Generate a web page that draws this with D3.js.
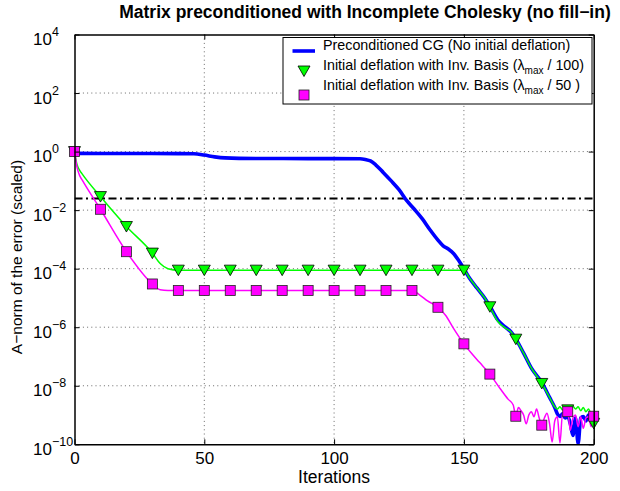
<!DOCTYPE html>
<html>
<head>
<meta charset="utf-8">
<script src="https://cdn.jsdelivr.net/npm/d3@7"></script>
<style>
  body { margin: 0; background: #fff; }
  text { font-family: "Liberation Sans", Arial, Helvetica, sans-serif; fill: #000; }
</style>
</head>
<body>
<svg id="chart" width="620" height="491"></svg>
<script>
// ---- data -------------------------------------------------------------
const iterTicks = [0, 50, 100, 150, 200];
const errorTickExps = [4, 2, 0, -2, -4, -6, -8, -10];
const gridIters = [50, 100, 150];
const gridExps = [2, 0, -2, -4, -6, -8];

// Preconditioned CG, no initial deflation
const cgIter = [0, 1, 20, 40, 46, 50, 54, 58, 70, 90,
  110, 112, 114, 116, 119, 122, 125, 128, 131, 134,
  137, 140, 142, 144, 146, 148, 150, 152, 155, 158,
  160, 163, 166, 168, 170, 173, 176, 180, 183, 185,
  186, 187, 188, 189, 190, 191, 192, 193, 194, 195, 196, 197, 198, 199, 200];
const cgError = [1, 0.871, 0.861, 0.851, 0.84, 0.76, 0.66, 0.61, 0.582, 0.575,
  0.569, 0.537, 0.479, 0.355, 0.191, 0.1, 5.0e-2, 2.1e-2, 1.05e-2, 5.0e-3,
  2.1e-3, 9.5e-4, 6.0e-4, 4.7e-4, 3.3e-4, 1.9e-4, 1.0e-4, 5.0e-5, 2.2e-5, 1.0e-5,
  5.2e-6, 1.8e-6, 1.0e-6, 7.1e-7, 4.0e-7, 1.3e-7, 4.0e-8, 1.3e-8, 4.0e-9, 1.8e-9,
  1.1e-9, 8.9e-10, 1.1e-9, 7.9e-10, 8.9e-10, 5.0e-10, 2.0e-10, 7.9e-10, 1.05e-10, 7.9e-10,
  8.9e-10, 6.3e-10, 1.0e-9, 7.1e-10, 8.9e-10];

// Initial deflation with inverse basis, lambda_max / 100
const inv100Iter = [0, 1, 2, 3, 10, 20, 30, 33, 36, 40,
  50, 60, 70, 80, 90, 100, 110, 120, 130, 140, 150,
  152, 155, 158, 160, 163, 166, 168, 170, 173, 176,
  180, 183, 185,
  186, 187, 188, 189, 190, 191, 192, 193, 194, 195, 196, 197, 198, 199, 200];
const inv100Error = [1, 0.355, 0.229, 0.17, 2.9e-2, 2.75e-3, 3.4e-4, 1.5e-4, 1.0e-4, 8.9e-5,
  8.9e-5, 8.9e-5, 8.9e-5, 8.9e-5, 8.9e-5, 8.9e-5, 8.9e-5, 8.9e-5, 8.9e-5, 8.9e-5, 8.9e-5,
  5.0e-5, 2.2e-5, 1.0e-5, 5.0e-6, 1.6e-6, 9.3e-7, 7.1e-7, 3.9e-7, 1.3e-7, 4.0e-8,
  1.2e-8, 4.0e-9, 1.9e-9,
  1.6e-9, 1.9e-9, 1.5e-9, 1.7e-9, 1.5e-9, 1.9e-9, 2.0e-9, 1.6e-9, 1.9e-9, 1.4e-9,
  1.8e-9, 1.3e-9, 1.6e-9, 1.0e-9, 5.2e-10];

// Initial deflation with inverse basis, lambda_max / 50
const inv50Iter = [0, 1, 2, 3, 10, 20, 30, 33, 36, 40,
  50, 60, 70, 80, 90, 100, 110, 120, 130,
  133, 136, 140, 143, 146, 150, 153, 156, 160, 164,
  167, 169,
  170, 171, 172, 173, 174, 175, 176, 177, 178, 179,
  180, 181, 182, 183, 184, 185, 186, 187, 188, 189,
  190, 191, 192, 193, 194, 195, 196, 197, 198, 199, 200];
const inv50Error = [1, 0.282, 0.151, 0.105, 1.07e-2, 3.8e-4, 3.0e-5, 1.9e-5, 1.8e-5, 1.8e-5,
  1.8e-5, 1.8e-5, 1.8e-5, 1.8e-5, 1.8e-5, 1.8e-5, 1.8e-5, 1.8e-5, 1.8e-5,
  1.26e-5, 7.9e-6, 4.8e-6, 2.5e-6, 9.1e-7, 2.7e-7, 1.26e-7, 6.3e-8, 2.5e-8, 7.9e-9,
  3.5e-9, 2.2e-9,
  9.1e-10, 1.8e-9, 1.4e-9, 1.0e-9, 5.0e-10, 1.0e-9, 1.3e-9, 8.7e-10, 1.6e-9, 7.9e-10,
  4.5e-10, 7.9e-10, 1.15e-9, 5.0e-10, 1.2e-10, 6.3e-10, 8.7e-10, 1.1e-10, 1.15e-9, 1.0e-9,
  1.3e-9, 3.0e-10, 7.9e-10, 1.0e-9, 4.0e-10, 8.7e-10, 3.5e-10, 7.9e-10, 8.7e-10, 4.0e-10, 9.1e-10];

// stopping tolerance drawn as a dash-dot reference line
const toleranceLevel = 2.5e-2;

const titleText = "Matrix preconditioned with Incomplete Cholesky (no fill\u2212in)";
const xLabelText = "Iterations";
const yLabelText = "A\u2212norm of the error (scaled)";
const legendEntries = [
  { pre: "Preconditioned CG (No initial deflation)", sub: "", post: "" },
  { pre: "Initial deflation with Inv. Basis (\u03bb", sub: "max", post: " / 100)" },
  { pre: "Initial deflation with Inv. Basis (\u03bb", sub: "max", post: " / 50 )" }
];

// ---- layout -----------------------------------------------------------
const plot = { left: 74.5, right: 593.7, top: 34.5, bottom: 444.3 };
const colors = { cg: "#0000ff", inv100: "#00ff00", inv50: "#ff00ff" };

const svg = d3.select("#chart");
svg.append("rect").attr("width", 620).attr("height", 491).attr("fill", "#fff");

const x = d3.scaleLinear().domain([0, 200]).range([plot.left, plot.right]);
const y = d3.scaleLog().domain([1e-10, 1e4]).range([plot.bottom, plot.top]);

// grid
const grid = svg.append("g").attr("stroke", "#444").attr("stroke-width", 0.8)
  .attr("stroke-dasharray", "1,3.2");
grid.selectAll("line.v").data(gridIters).join("line")
  .attr("x1", d => x(d)).attr("x2", d => x(d))
  .attr("y1", plot.top).attr("y2", plot.bottom);
grid.selectAll("line.h").data(gridExps).join("line")
  .attr("x1", plot.left).attr("x2", plot.right)
  .attr("y1", d => y(Math.pow(10, d))).attr("y2", d => y(Math.pow(10, d)));

// clip for data
svg.append("clipPath").attr("id", "plotClip").append("rect")
  .attr("x", plot.left).attr("y", plot.top)
  .attr("width", plot.right - plot.left).attr("height", plot.bottom - plot.top);

const dataLayer = svg.append("g").attr("clip-path", "url(#plotClip)");

const lineGen = d3.line()
  .x(d => x(d[0])).y(d => y(d[1]))
  .curve(d3.curveMonotoneX);

const cgPts = d3.zip(cgIter, cgError);
const inv100Pts = d3.zip(inv100Iter, inv100Error);
const inv50Pts = d3.zip(inv50Iter, inv50Error);

// tolerance line
dataLayer.append("line")
  .attr("x1", x(0)).attr("x2", x(200))
  .attr("y1", y(toleranceLevel)).attr("y2", y(toleranceLevel))
  .attr("stroke", "#000").attr("stroke-width", 2)
  .attr("stroke-dasharray", "8,3.5,2,3.5");

dataLayer.append("path").datum(cgPts)
  .attr("d", lineGen).attr("fill", "none")
  .attr("stroke", colors.cg).attr("stroke-width", 3.6).attr("stroke-linejoin", "round");
dataLayer.append("path").datum(inv100Pts)
  .attr("d", lineGen).attr("fill", "none")
  .attr("stroke", colors.inv100).attr("stroke-width", 1.5).attr("stroke-linejoin", "round");
dataLayer.append("path").datum(inv50Pts)
  .attr("d", lineGen).attr("fill", "none")
  .attr("stroke", colors.inv50).attr("stroke-width", 1.5).attr("stroke-linejoin", "round");

// markers every 10 iterations
const triPath = "M-6,-5L6,-5L0,5.5Z";
const markerLayer = svg.append("g");
markerLayer.selectAll("path.tri").data(inv100Pts.filter(d => d[0] % 10 === 0)).join("path")
  .attr("class", "tri")
  .attr("d", triPath)
  .attr("transform", d => `translate(${x(d[0])},${y(d[1])})`)
  .attr("fill", colors.inv100).attr("stroke", "#000").attr("stroke-width", 0.8);
markerLayer.selectAll("rect.sq").data(inv50Pts.filter(d => d[0] % 10 === 0)).join("rect")
  .attr("class", "sq")
  .attr("x", d => x(d[0]) - 5).attr("y", d => y(d[1]) - 5)
  .attr("width", 10).attr("height", 10)
  .attr("fill", colors.inv50).attr("stroke", "#222").attr("stroke-width", 0.8);

// axes
const fontTick = 17;
const xAxis = d3.axisBottom(x).tickValues(iterTicks).tickSizeInner(-5).tickSizeOuter(0)
  .tickPadding(8).tickFormat(d3.format("d"));
const gx = svg.append("g").attr("transform", `translate(0,${plot.bottom})`).call(xAxis);
gx.selectAll("text").attr("font-size", fontTick).attr("font-family", null);

svg.append("g").attr("transform", `translate(0,${plot.top})`)
  .call(d3.axisTop(x).tickValues(iterTicks).tickSizeInner(-5).tickSizeOuter(0).tickFormat(() => ""));

const yTickVals = errorTickExps.map(e => Math.pow(10, e));
const gy = svg.append("g").attr("transform", `translate(${plot.left},0)`)
  .call(d3.axisLeft(y).tickValues(yTickVals).tickSizeInner(-5).tickSizeOuter(0).tickFormat(() => ""));
gy.selectAll(".tick text").remove();
gy.selectAll(".tick").each(function (d, i) {
  const t = d3.select(this).append("text")
    .attr("x", 33 - plot.left).attr("y", 10)
    .attr("text-anchor", "start").attr("font-size", fontTick);
  t.append("tspan").text("10");
  t.append("tspan").attr("font-size", 12.5).attr("dy", -9)
    .text(String(errorTickExps[i]).replace("-", "\u2212"));
});

svg.append("g").attr("transform", `translate(${plot.right},0)`)
  .call(d3.axisRight(y).tickValues(yTickVals).tickSizeInner(-5).tickSizeOuter(0).tickFormat(() => ""));

svg.selectAll(".domain").attr("stroke", "#000").attr("stroke-width", 1.5);
svg.selectAll(".tick line").attr("stroke", "#000").attr("stroke-width", 1);

// labels
svg.append("text").attr("x", 365).attr("y", 18)
  .attr("text-anchor", "middle").attr("font-size", 17.5).attr("font-weight", "bold")
  .text(titleText);
svg.append("text").attr("x", (plot.left + plot.right) / 2).attr("y", 483)
  .attr("text-anchor", "middle").attr("font-size", 17.5).text(xLabelText);
svg.append("text")
  .attr("transform", `translate(22,257) rotate(-90)`)
  .attr("text-anchor", "middle").attr("font-size", 15.5).text(yLabelText);

// legend
const legend = svg.append("g");
const lgBox = { x: 283, y: 37.5, w: 309, h: 66.5 };
legend.append("rect").attr("x", lgBox.x).attr("y", lgBox.y)
  .attr("width", lgBox.w).attr("height", lgBox.h)
  .attr("fill", "#fff").attr("stroke", "#000").attr("stroke-width", 1);
const rowBase = [50, 70, 90];
const rowMark = [51, 71, 95];
legendEntries.forEach((e, i) => {
  const t = legend.append("text").attr("x", 323).attr("y", rowBase[i]).attr("font-size", 14.3);
  t.append("tspan").text(e.pre);
  if (e.sub) {
    t.append("tspan").attr("font-size", 10).attr("dy", 4).text(e.sub);
    t.append("tspan").attr("dy", -4).text(e.post);
  }
});
legend.append("line").attr("x1", 292.5).attr("x2", 315)
  .attr("y1", rowMark[0]).attr("y2", rowMark[0])
  .attr("stroke", colors.cg).attr("stroke-width", 3.6);
legend.append("path").attr("d", triPath)
  .attr("transform", `translate(304,${rowMark[1]})`)
  .attr("fill", colors.inv100).attr("stroke", "#000").attr("stroke-width", 0.8);
legend.append("rect").attr("x", 299).attr("y", rowMark[2] - 5).attr("width", 10).attr("height", 10)
  .attr("fill", colors.inv50).attr("stroke", "#222").attr("stroke-width", 0.8);
</script>
</body>
</html>
